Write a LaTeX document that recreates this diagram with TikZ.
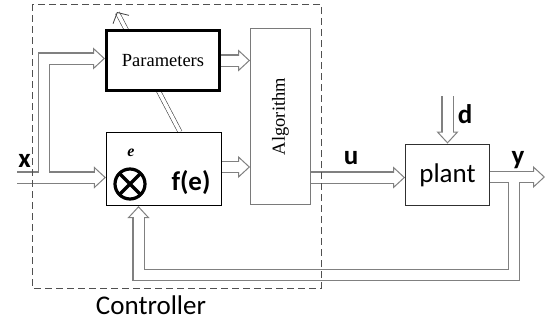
\documentclass[tikz,border=0pt]{standalone}
\usepackage{fontspec}
\setmainfont{Liberation Serif}
\newfontfamily\calibri{Carlito}
\usetikzlibrary{arrows.meta}
\pgfdeclarelayer{background}
\pgfsetlayers{background,main}

\definecolor{pipegray}{HTML}{808080}
\definecolor{algogray}{HTML}{7A7A7A}
\definecolor{plantgray}{HTML}{303030}
\definecolor{dashgray}{HTML}{505050}
\definecolor{adaptgray}{HTML}{404040}

\begin{document}
\begin{tikzpicture}[x=1pt, y=-1pt,
  block/.style={draw, inner sep=0pt},
  pipe wall/.style={draw=pipegray, line width=12.4pt, shorten >=11.5pt},
  pipe head/.style={draw=white, line width=0.4pt,
    -{Triangle[length=12pt 0 0, width=22pt 0 0, line width=1pt, color=pipegray, fill=white]}},
  pipe bore/.style={draw=white, line width=10pt, shorten >=10.3pt},
  adapt/.style={draw=adaptgray, line width=0.6pt, double=white, double distance=3.6pt,
    -{Straight Barb[length=8pt 0 0, width=18pt 0 0, line width=0.8pt]}},
  summer/.style={circle, draw, line width=3.2pt, minimum size=30pt, inner sep=0pt,
    path picture={\draw[line width=3.2pt]
      (path picture bounding box.north west) -- (path picture bounding box.south east)
      (path picture bounding box.north east) -- (path picture bounding box.south west);}},
  sans/.style={font=\calibri\fontsize{27}{30}\selectfont},
  signal/.style={font=\calibri\bfseries\fontsize{27}{30}\selectfont},
  serif/.style={font=\fontsize{18.5}{20}\selectfont}]

\useasboundingbox (0,0) rectangle (550,325);

\node [block, line width=3pt, fill=white, minimum width=113pt, minimum height=60pt, serif]
  (params) at (163,60.5) {\raisebox{-2pt}{Parameters}};
\node [block, line width=1.2pt, minimum width=115pt, minimum height=73pt] (fe) at (164,169) {};
\node [block, draw=algogray, line width=0.9pt, minimum width=60pt, minimum height=176pt, serif]
  (algo) at (280.5,116.5) {\rotatebox{90}{Algorithm}};
\node [block, draw=plantgray, line width=1.4pt, minimum width=83.5pt, minimum height=61.5pt, sans]
  (plant) at (447.5,175) {plant};

\node [summer] (sum) at (130,184) {};
\node [font=\bfseries\itshape\fontsize{16}{16}\selectfont] (e) at (131,153) {e};
\node [signal] (f) at (191,183) {f(e)};

\coordinate (xin) at (17,177.5);
\coordinate (xsplit) at (44,177.5);
\coordinate (pin) at ([yshift=2pt]params.west);
\coordinate (feout) at ([yshift=2pt]fe.east);
\coordinate (uin) at ([yshift=-2.5pt]plant.west);
\coordinate (din) at (447.5,96);
\coordinate (yout) at (545,177);
\coordinate (ysplit) at (514,177);
\coordinate (fb) at (138.5,275);
\coordinate (tunefrom) at ([xshift=16pt]fe.north);
\coordinate (tune) at (117,12);

\foreach \pass in {pipe wall,pipe head,pipe bore} {
  \draw [\pass] (xin) -- (xin -| fe.west);
  \draw [\pass] (xsplit) |- (pin);
  \draw [\pass] (params.east) -- (params.east -| algo.west);
  \draw [\pass] (feout) -- (feout -| algo.west);
  \draw [\pass] (algo.east |- uin) -- (uin);
  \draw [\pass] (din) -- (plant.north);
  \draw [\pass] (plant.east |- yout) -- (yout);
  \draw [\pass] (ysplit) |- (fb) -- (fb |- fe.south);
}

\begin{pgfonlayer}{background}
\draw [adapt] (tunefrom) -- (tune);
\end{pgfonlayer}

\node [signal] (x) at (24.5,161) {x};
\node [signal] (u) at (351,158) {u};
\node [signal] (d) at (465,114.5) {d};
\node [signal] (y) at (518,160.5) {y};

\draw [draw=dashgray, line width=0.8pt, dash pattern=on 7pt off 4pt] (32,4) rectangle (321,288);
\node [sans] (ctrl) at (151,305) {Controller};

\end{tikzpicture}
\end{document}
